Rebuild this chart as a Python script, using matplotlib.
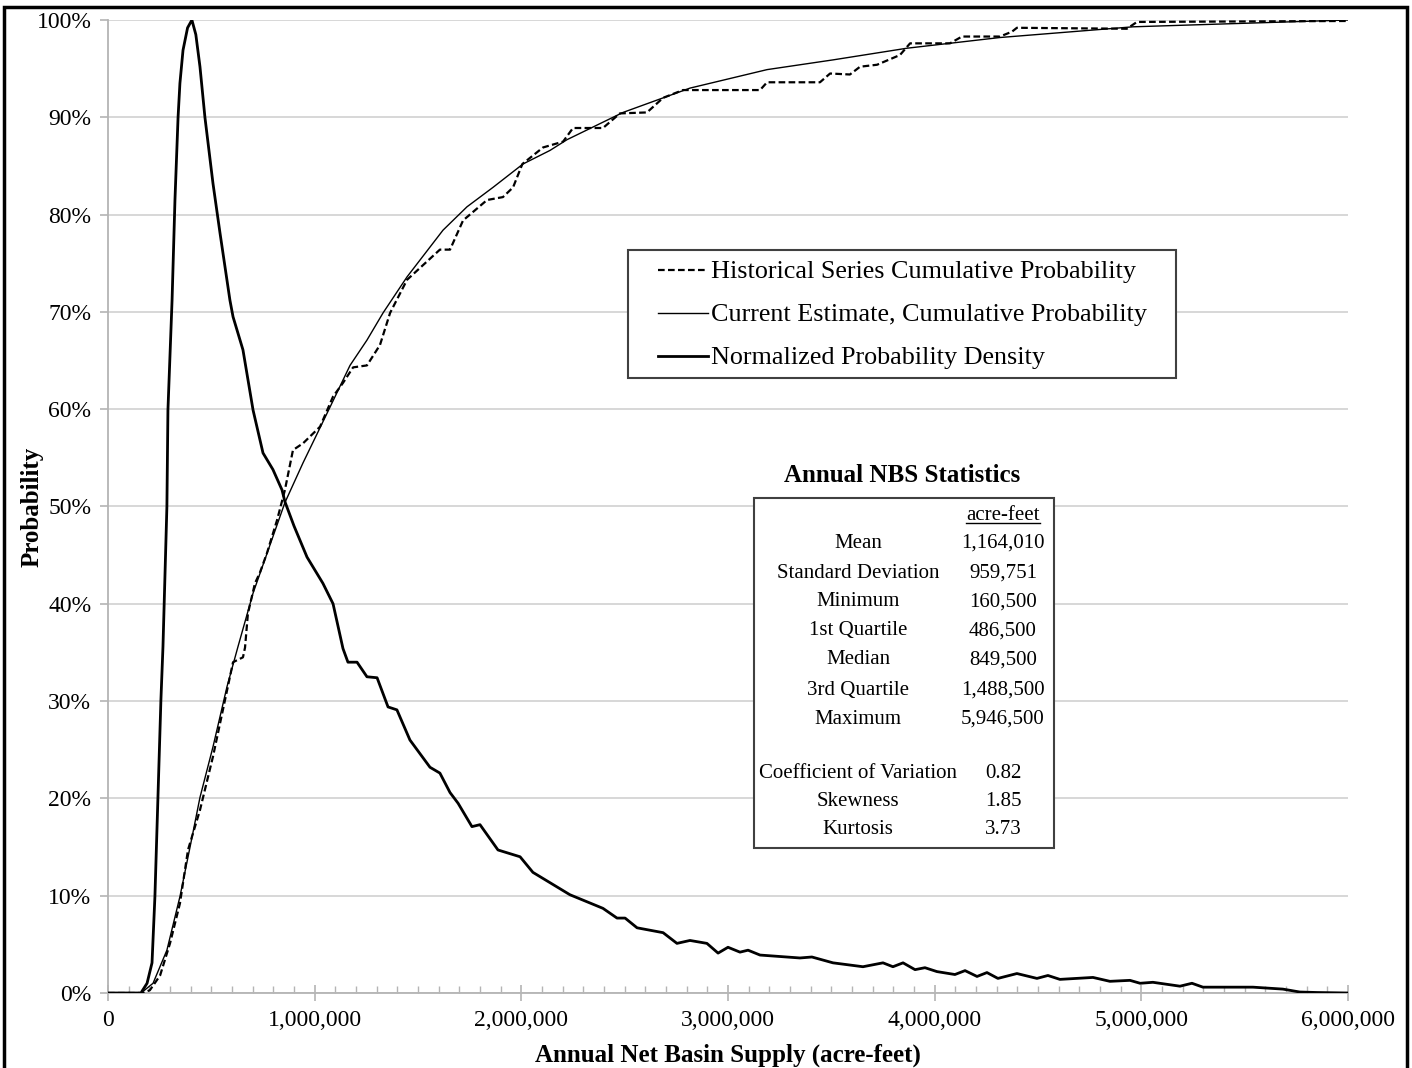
import matplotlib
matplotlib.use("Agg")
import matplotlib.pyplot as plt
from matplotlib.patches import Rectangle
from matplotlib.lines import Line2D
from matplotlib.ticker import MultipleLocator, FuncFormatter

plt.rcParams['font.family'] = ['Liberation Serif', 'DejaVu Serif']

# Annual net basin supply, thousands of acre-feet
dens_x = [0, 160, 165, 189, 213, 227, 256, 266, 285, 290, 310, 324, 339, 348, 363,
          385, 406, 425, 445, 469, 508, 542, 590, 605, 653, 702, 750, 798, 842, 856,
          900, 963, 1040, 1089, 1137, 1161, 1205, 1253, 1302, 1355, 1398, 1461, 1558,
          1606, 1655, 1694, 1761, 1800, 1887, 1994, 2056, 2235, 2395, 2463, 2502, 2560,
          2686, 2753, 2816, 2898, 2952, 3000, 3058, 3097, 3155, 3348, 3406, 3508, 3653,
          3750, 3798, 3847, 3905, 3953, 4011, 4098, 4147, 4205, 4253, 4306, 4398, 4495,
          4548, 4606, 4766, 4848, 4945, 4994, 5056, 5187, 5245, 5298, 5443, 5540, 5685,
          5767, 5850, 6000]
# Normalized probability density, percent of peak
dens_y = [0, 0, 0.2, 1.0, 3.1, 9.9, 30.1, 35.6, 50.0, 59.9, 71.2, 81.5, 90.0, 93.5, 96.9,
          99.2, 100.0, 98.5, 95.2, 90.0, 83.2, 78.1, 71.2, 69.5, 66.1, 59.9, 55.5, 53.8, 51.7, 50.5,
          48.0, 44.8, 42.1, 40.0, 35.4, 34.0, 34.0, 32.5, 32.4, 29.4, 29.1, 26.0, 23.2,
          22.6, 20.6, 19.5, 17.1, 17.3, 14.7, 14.0, 12.4, 10.1, 8.7, 7.7, 7.7, 6.7,
          6.2, 5.1, 5.4, 5.1, 4.1, 4.7, 4.2, 4.4, 3.9, 3.6, 3.7, 3.1, 2.7,
          3.1, 2.7, 3.1, 2.4, 2.6, 2.2, 1.9, 2.3, 1.7, 2.1, 1.5, 2.0, 1.5,
          1.8, 1.4, 1.6, 1.2, 1.3, 1.0, 1.1, 0.7, 1.0, 0.6, 0.6, 0.6, 0.4,
          0.1, 0.05, 0]

# Current estimate, cumulative probability (percent)
cur_x = [0, 160, 218, 285, 348, 397, 445, 508, 576, 629, 702, 798, 856, 944, 1074, 1171,
         1253, 1331, 1447, 1621, 1737, 1863, 2008, 2139, 2221, 2492, 2816, 3189, 3508,
         3866, 4316, 4960, 6000]
cur_y = [0, 0, 1.0, 4.4, 9.9, 15.0, 20.1, 25.3, 31.5, 35.6, 41.1, 46.9, 50.4, 54.5, 60.2, 64.5,
         67.1, 69.9, 73.6, 78.4, 80.8, 82.8, 85.2, 86.6, 87.7, 90.5, 93.0, 94.9, 95.9,
         97.1, 98.2, 99.3, 100.0]

# Historical series, cumulative probability (percent)
hist_x = [0, 170, 203, 252, 300, 348, 387, 445, 508, 576, 605, 653, 663, 677, 711, 735, 769,
          818, 856, 895, 944, 1026, 1089, 1137, 1186, 1253, 1316, 1365, 1447, 1606, 1655,
          1718, 1834, 1911, 1960, 2005, 2105, 2202, 2250, 2395, 2477, 2608, 2686, 2782,
          3155, 3189, 3445, 3494, 3590, 3639, 3721, 3832, 3881, 4074, 4132, 4316, 4374,
          4398, 4930, 4979, 6000]
hist_y = [0, 0, 0.3, 1.8, 5.1, 9.2, 14.7, 18.8, 24.3, 31.1, 34.0, 34.5, 35.5, 39.0, 42.1, 43.2, 45.2,
          48.6, 51.7, 55.8, 56.5, 58.2, 61.3, 62.7, 64.3, 64.5, 66.6, 69.9, 73.3, 76.4, 76.4,
          79.4, 81.5, 81.8, 82.8, 85.2, 86.9, 87.5, 88.9, 88.9, 90.4, 90.5, 92.0, 92.8,
          92.8, 93.6, 93.6, 94.5, 94.4, 95.2, 95.4, 96.4, 97.6, 97.6, 98.3, 98.3, 98.8,
          99.2, 99.1, 99.8, 99.9]

series_labels = ["Historical Series Cumulative Probability",
                 "Current Estimate, Cumulative Probability",
                 "Normalized Probability Density"]

stat_names = ["Mean", "Standard Deviation", "Minimum", "1st Quartile", "Median",
              "3rd Quartile", "Maximum", "Coefficient of Variation", "Skewness", "Kurtosis"]
stat_values = ["1,164,010", "959,751", "160,500", "486,500", "849,500",
               "1,488,500", "5,946,500", "0.82", "1.85", "3.73"]

W, H = 1412, 1068
fig = plt.figure(figsize=(W / 100, H / 100), dpi=100)
ax = fig.add_axes([108 / W, (H - 993) / H, (1348 - 108) / W, (993 - 20) / H])

axis_gray = '#b4b4b4'
grid_gray = '#d4d4d4'

styles = [
    dict(color='black', lw=1.6, linestyle=(0, (3.0, 1.5))),
    dict(color='black', lw=1.0, linestyle='-'),
    dict(color='black', lw=2.0, linestyle='-', solid_joinstyle='round'),
]

to_af = lambda v: [x * 1000 for x in v]
to_p = lambda v: [y / 100 for y in v]

ax.plot(to_af(hist_x), to_p(hist_y), zorder=3, **styles[0])
ax.plot(to_af(cur_x), to_p(cur_y), zorder=3, **styles[1])
ax.plot(to_af(dens_x), to_p(dens_y), zorder=4, **styles[2])

ax.set_xlim(0, 6_000_000)
ax.set_ylim(0, 1.0)

ax.yaxis.set_major_locator(MultipleLocator(0.1))
ax.yaxis.set_major_formatter(FuncFormatter(lambda v, p: f"{v * 100:.0f}%"))
ax.xaxis.set_major_locator(MultipleLocator(1_000_000))
ax.xaxis.set_minor_locator(MultipleLocator(100_000))
ax.xaxis.set_major_formatter(FuncFormatter(lambda v, p: f"{v:,.0f}"))

ax.grid(axis='y', color=grid_gray, lw=1.3, zorder=0)
ax.set_axisbelow(True)
for s in ('top', 'right'):
    ax.spines[s].set_visible(False)
for s in ('left', 'bottom'):
    ax.spines[s].set_color(axis_gray)
    ax.spines[s].set_linewidth(1.3)

ax.tick_params(axis='y', which='major', direction='out', length=6, width=1.2,
               color=axis_gray, labelsize=17, pad=6)
ax.tick_params(axis='x', which='major', direction='inout', length=12, width=1.2,
               color=axis_gray, labelsize=17, pad=6)
ax.tick_params(axis='x', which='minor', direction='in', length=5, width=1.0,
               color=axis_gray)

ax.set_ylabel("Probability", fontsize=18, fontweight='bold')
ax.yaxis.set_label_coords(-0.052, 0.5)
ax.set_xlabel("Annual Net Basin Supply (acre-feet)", fontsize=18, fontweight='bold',
              labelpad=9)

# Legend box with line samples
A = ax.transAxes
px = lambda x: (x - 108) / 1240
py = lambda y: (993 - y) / 973
ax.add_patch(Rectangle((px(628), py(378)), px(1176) - px(628), py(250) - py(378),
                       transform=A, facecolor='white', edgecolor='#404040', lw=1.5,
                       zorder=5))
for i, (lab, st) in enumerate(zip(series_labels, styles)):
    yy = py(270 + 43 * i)
    ax.add_line(Line2D([px(658), px(708)], [yy, yy], transform=A, zorder=6, **st))
    ax.text(px(711), py(272 + 43 * i), lab, transform=A, ha='left', va='center',
            fontsize=18.8, zorder=6)

# Statistics table
bx0, bx1, by0, by1 = px(754), px(1054), py(848), py(498)
ax.add_patch(Rectangle((bx0, by0), bx1 - bx0, by1 - by0, transform=A,
                       facecolor='white', edgecolor='#404040', lw=1.5, zorder=5))
ax.text(px(902), py(476), "Annual NBS Statistics", transform=A, ha='center',
        va='center', fontsize=18, fontweight='bold', zorder=6)
hdr = ax.text(px(1003), py(515), "acre-feet", transform=A, ha='center',
              va='center', fontsize=15, zorder=6)
row_y = [543, 573, 602, 631, 660, 690, 719, 773, 802, 830]
for name, val, yy in zip(stat_names, stat_values, row_y):
    ax.text(px(858), py(yy), name, transform=A, ha='center', va='center',
            fontsize=15, zorder=6)
    ax.text(px(1003), py(yy), val, transform=A, ha='center', va='center',
            fontsize=15, zorder=6)

fig.canvas.draw()
bb = hdr.get_window_extent().transformed(A.inverted())
ax.add_line(Line2D([bb.x0, bb.x1], [bb.y0 + 0.002, bb.y0 + 0.002], transform=A,
                   color='black', lw=1.0, zorder=6))

# Outer frame around the figure
fig.patches.append(Rectangle((4 / W, -0.02), (1407 - 4) / W, (H - 7) / H + 0.02,
                             transform=fig.transFigure, fill=False, edgecolor='black',
                             lw=2.5, clip_on=False))

fig.savefig("out.png", dpi=100)
